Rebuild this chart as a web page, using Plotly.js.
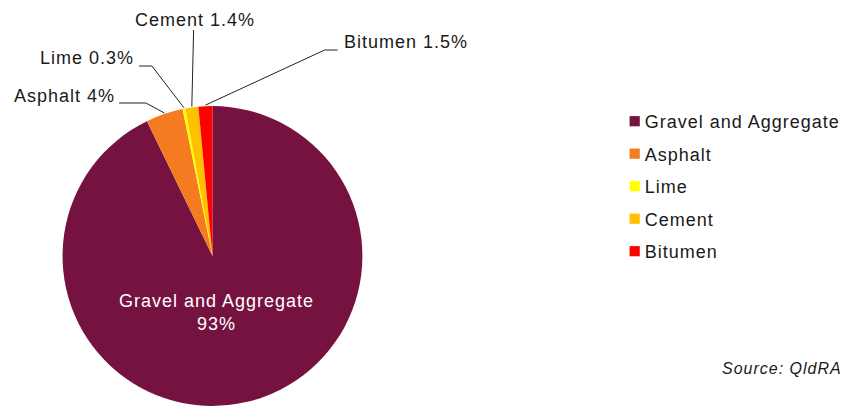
<!DOCTYPE html>
<html><head><meta charset="utf-8">
<script src="https://cdn.plot.ly/plotly-3.0.1.min.js"></script>
<style>html,body{margin:0;padding:0;background:#fff}#chart{width:846px;height:407px}
svg text{letter-spacing:1px}</style>
</head><body><div id="chart"></div>
<script>
const categories = ["Gravel and Aggregate", "Asphalt", "Lime", "Cement", "Bitumen"];
const shares = [92.8, 4, 0.3, 1.4, 1.5];
const shareLabels = ["93%", "4%", "0.3%", "1.4%", "1.5%"];
const colors = ["#76123F", "#F47B20", "#FFFF00", "#FFC000", "#FF0000"];

const W = 846, H = 407;
const cx = 214, cy = 256, R = 151;
const px = x => x / W, py = y => 1 - y / H;

const FONT = "Liberation Sans, Arial, sans-serif";
const TXT = "#1a1a1a";

// label placement (layout only): text anchor and elbow point for each slice label
const labelPos = {
  "Gravel and Aggregate": {tx: 218, ty: 312, anchor: "center", inside: true},
  "Asphalt": {tx: 118, ty: 96, anchor: "right", elbow: [[120,103],[147,103]]},
  "Lime":    {tx: 137, ty: 58, anchor: "right", elbow: [[140,66],[153,66]]},
  "Cement":  {tx: 196, ty: 20, anchor: "center", elbow: [[195,30]]},
  "Bitumen": {tx: 344, ty: 42, anchor: "left", elbow: [[340,50],[327,50]]}
};

const total = shares.reduce((a,b)=>a+b,0);
const annotations = [], shapes = [];
let cum = 0;
categories.forEach((c,i) => {
  const mid = (cum + shares[i]/2) / total * 2*Math.PI;
  cum += shares[i];
  const lp = labelPos[c];
  if (lp.inside) {
    annotations.push({
      xref:"paper", yref:"paper", x:px(lp.tx), y:py(lp.ty), xanchor:"center", yanchor:"middle",
      text: c + "<br>" + shareLabels[i], showarrow:false,
      font:{family:FONT, size:18, color:"#fff"}
    });
    return;
  }
  const ex = cx + R*Math.sin(mid), ey = cy - R*Math.cos(mid);
  annotations.push({
    xref:"paper", yref:"paper", x:px(lp.tx), y:py(lp.ty), xanchor:lp.anchor, yanchor:"middle",
    text: c + " " + shareLabels[i], showarrow:false,
    font:{family:FONT, size:18, color:TXT}
  });
  const pts = lp.elbow.concat([[ex, ey]]);
  let d = "M" + pts.map(p => px(p[0]) + "," + py(p[1])).join(" L");
  shapes.push({type:"path", xref:"paper", yref:"paper", path:d, line:{color:"#222", width:1}});
});

annotations.push({
  xref:"paper", yref:"paper", x:px(850), y:py(368), xanchor:"right", yanchor:"middle",
  text:"<i>Source: QldRA</i>", showarrow:false, font:{family:FONT, size:16, color:TXT}
});

const trace = {
  type:"pie", labels:categories, values:shares, sort:false, direction:"clockwise", rotation:0,
  marker:{colors:colors, line:{color:"#fff", width:0}},
  textinfo:"none",
  hoverinfo:"none",
  domain:{x:[px(cx-R), px(cx+R)], y:[0, (2*R)/H]}
};

const layout = {
  width:W, height:H, margin:{l:0,r:0,t:0,b:0},
  paper_bgcolor:"#fff", plot_bgcolor:"#fff",
  showlegend:true,
  legend:{x:(609)/W, y:py(103), xanchor:"left", yanchor:"top", font:{family:FONT, size:18, color:TXT}, traceorder:"normal"},
  annotations:annotations, shapes:shapes
};
Plotly.newPlot("chart", [trace], layout, {displayModeBar:false, staticPlot:true}).then(gd => {
  // spread legend rows to match the reference spacing
  const sb = gd.querySelector(".legend .scrollbox");
  if (sb) sb.removeAttribute("clip-path");
  const items = gd.querySelectorAll(".legend .traces");
  if (!items.length) return;
  const m0 = /translate\(([-\d.]+),\s*([-\d.]+)\)/.exec(items[0].getAttribute("transform") || "");
  if (!m0) return;
  const x0 = parseFloat(m0[1]), y0 = parseFloat(m0[2]);
  items.forEach((g, i) => {
    g.setAttribute("transform", "translate(" + x0 + "," + (y0 + i * 32.5) + ")");
    const p = g.querySelector("path.legendpie");
    if (p) {
      const par = p.parentNode;
      if (par) par.setAttribute("transform", "");
      p.setAttribute("transform", "translate(30,0) scale(0.85)");
    }
  });
});
</script></body></html>
